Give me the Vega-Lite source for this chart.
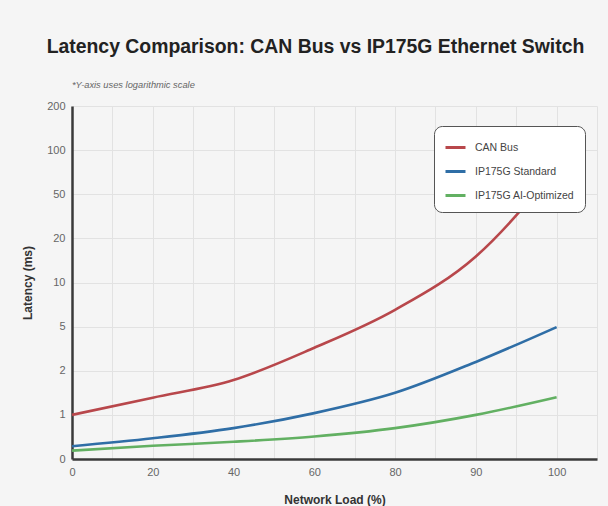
{
  "$schema": "https://vega.github.io/schema/vega-lite/v6.json",
  "autosize": {"type": "none"},
  "width": 525,
  "height": 353,
  "padding": {"left": 72, "top": 106, "right": 11, "bottom": 47},
  "background": "#f5f5f5",
  "title": {
    "text": "Latency Comparison: CAN Bus vs IP175G Ethernet Switch",
    "font": "Liberation Sans",
    "fontSize": 19.4,
    "fontWeight": "bold",
    "color": "#222222",
    "anchor": "middle",
    "dx": -19,
    "offset": 24
  },
  "config": {
    "view": {"stroke": null},
    "font": "Liberation Sans"
  },
  "layer": [
    {
      "data": {
        "values": [
          {"series": "CAN Bus", "load": 0, "latency": 1.0},
          {"series": "CAN Bus", "load": 20, "latency": 1.39},
          {"series": "CAN Bus", "load": 40, "latency": 1.79},
          {"series": "CAN Bus", "load": 60, "latency": 3.56},
          {"series": "CAN Bus", "load": 80, "latency": 6.9},
          {"series": "CAN Bus", "load": 90, "latency": 15.9},
          {"series": "CAN Bus", "load": 100, "latency": 80},
          {"series": "IP175G Standard", "load": 0, "latency": 0.29},
          {"series": "IP175G Standard", "load": 20, "latency": 0.47},
          {"series": "IP175G Standard", "load": 40, "latency": 0.7},
          {"series": "IP175G Standard", "load": 60, "latency": 1.04},
          {"series": "IP175G Standard", "load": 80, "latency": 1.5},
          {"series": "IP175G Standard", "load": 90, "latency": 2.6},
          {"series": "IP175G Standard", "load": 100, "latency": 4.97},
          {"series": "IP175G AI-Optimized", "load": 0, "latency": 0.19},
          {"series": "IP175G AI-Optimized", "load": 20, "latency": 0.3},
          {"series": "IP175G AI-Optimized", "load": 40, "latency": 0.39},
          {"series": "IP175G AI-Optimized", "load": 60, "latency": 0.51},
          {"series": "IP175G AI-Optimized", "load": 80, "latency": 0.7},
          {"series": "IP175G AI-Optimized", "load": 90, "latency": 1.0},
          {"series": "IP175G AI-Optimized", "load": 100, "latency": 1.4}
        ]
      },
      "mark": {"type": "line", "interpolate": "monotone", "strokeWidth": 2.6},
      "encoding": {
        "x": {
          "field": "load",
          "type": "quantitative",
          "scale": {
            "domain": [0, 20, 40, 60, 80, 90, 100, 105],
            "range": [
              0,
              {"expr": "width*1/6.5"},
              {"expr": "width*2/6.5"},
              {"expr": "width*3/6.5"},
              {"expr": "width*4/6.5"},
              {"expr": "width*5/6.5"},
              {"expr": "width*6/6.5"},
              {"expr": "width"}
            ],
            "zero": false,
            "nice": false
          },
          "axis": {
            "title": "Network Load (%)",
            "values": [0, 10, 20, 30, 40, 50, 60, 70, 80, 85, 90, 95, 100, 105],
            "labelExpr": "(datum.value % 20 == 0 || datum.value == 90) ? datum.label : ''",
            "ticks": false,
            "labelPadding": 7,
            "labelFontSize": 11,
            "labelColor": "#666666",
            "labelFlush": false,
            "titleFontSize": 12,
            "titleFontWeight": "bold",
            "titleColor": "#333333",
            "titlePadding": 17,
            "domainColor": "#3a3a3a",
            "domainWidth": 2.5,
            "gridColor": "#e2e2e2",
            "gridWidth": 1
          }
        },
        "y": {
          "field": "latency",
          "type": "quantitative",
          "scale": {
            "domain": [0, 1, 2, 5, 10, 20, 50, 100, 200],
            "range": [
              {"expr": "height"},
              {"expr": "height*7/8"},
              {"expr": "height*6/8"},
              {"expr": "height*5/8"},
              {"expr": "height*4/8"},
              {"expr": "height*3/8"},
              {"expr": "height*2/8"},
              {"expr": "height*1/8"},
              0
            ],
            "zero": false,
            "nice": false
          },
          "axis": {
            "title": "Latency (ms)",
            "values": [0, 1, 2, 5, 10, 20, 50, 100, 200],
            "ticks": false,
            "labelPadding": 7,
            "labelFontSize": 11,
            "labelColor": "#666666",
            "labelFlush": false,
            "titleFontSize": 12,
            "titleFontWeight": "bold",
            "titleColor": "#333333",
            "titlePadding": 12,
            "domainColor": "#3a3a3a",
            "domainWidth": 2.5,
            "gridColor": "#e2e2e2",
            "gridWidth": 1
          }
        },
        "color": {
          "field": "series",
          "type": "nominal",
          "scale": {
            "domain": ["CAN Bus", "IP175G Standard", "IP175G AI-Optimized"],
            "range": ["#b8474b", "#2f6ea6", "#62b062"]
          },
          "legend": {
            "title": null,
            "orient": "none",
            "legendX": 362,
            "legendY": 20,
            "symbolType": "stroke",
            "symbolSize": 400,
            "symbolStrokeWidth": 3,
            "labelFontSize": 10.5,
            "labelColor": "#444444",
            "labelOffset": 8,
            "rowPadding": 6,
            "padding": 10,
            "fillColor": "#ffffff",
            "strokeColor": "#555555",
            "cornerRadius": 8
          }
        }
      }
    },
    {
      "data": {"values": [{"note": "*Y-axis uses logarithmic scale"}]},
      "mark": {
        "type": "text",
        "align": "left",
        "baseline": "middle",
        "fontStyle": "italic",
        "fontSize": 9.3,
        "color": "#666666",
        "dy": -21
      },
      "encoding": {
        "x": {"datum": 0},
        "y": {"datum": 200},
        "text": {"field": "note"}
      }
    }
  ]
}
